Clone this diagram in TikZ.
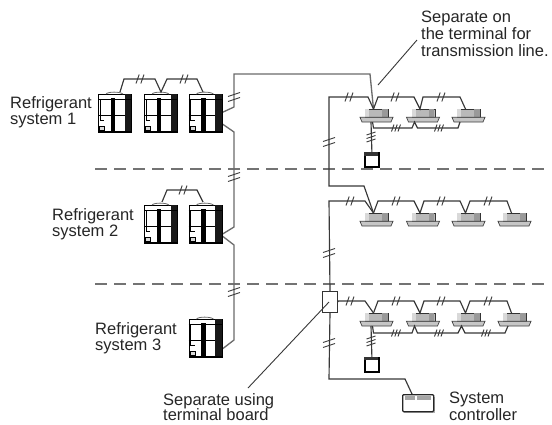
\documentclass[tikz,border=0pt]{standalone}
\usepackage{fontspec}
\setmainfont{Liberation Sans}
\usetikzlibrary{calc}
\definecolor{wire}{gray}{0.22}
\definecolor{wirelight}{gray}{0.42}
\definecolor{dashc}{gray}{0.45}
\definecolor{ink}{gray}{0.15}
\tikzset{
  wireline/.style={draw=wire,line width=1.15pt,line join=miter},
  wiregray/.style={draw=wirelight,line width=1.3pt},
  tickmark/.style={draw=wire,line width=0.9pt},
  zone/.style={draw=dashc,line width=1.3pt,dash pattern=on 12pt off 7pt},
  lead/.style={draw=wire,line width=0.9pt},
  label/.style={font=\fontsize{16.5}{16.8}\selectfont,text=ink,align=left,inner sep=0pt,anchor=north west},
  outbox/.style={draw=black,line width=0.9pt,fill=white,minimum width=33pt,minimum height=38pt,inner sep=0pt,anchor=north west},
  headbox/.style={draw=black!80,line width=0.9pt,fill=gray!55,minimum width=23pt,minimum height=8pt,inner sep=0pt,anchor=north west},
  remote/.style={draw=black,line width=1.8pt,fill=white,minimum width=14pt,minimum height=14pt,inner sep=0pt,anchor=north west},
  board/.style={draw=black!80,line width=1pt,fill=white,minimum width=15pt,minimum height=21pt,inner sep=0pt,anchor=north west},
  ctrl/.style={draw=black!85,line width=1.3pt,fill=white,rounded corners=1pt,minimum width=31pt,minimum height=17pt,inner sep=0pt,anchor=north west}
}
% outdoor unit: name, x, y (top left)
\newcommand{\outdoorunit}[3]{%
  \node[outbox] (#1) at (#2,#3) {};
  \begin{scope}[shift={(#2,#3)}]
    \fill[black] (12.5,4) rectangle (17,37);
    \fill[black!90] (26.5,0) rectangle (33,37);
    \draw[black,line width=0.6pt] (0,5) -- (33,5);
    \draw[black,line width=0.6pt] (0,21) -- (26.5,21);
    \fill[black] (0,36.5) rectangle (33,38);
    \draw[black,line width=0.7pt] (2,6) -- (2,22);
    \draw[black,line width=0.7pt] (2,22) -- (2,26) -- (6,26);
    \draw[black,line width=0.8pt,fill=gray!30] (1.5,32) rectangle (6.5,36);
    \draw[wirelight,line width=0.8pt] (8,0) .. controls (10,-2.5) and (22,-2.5) .. (25,0);
  \end{scope}}
% indoor cassette: name, x, y (top left of head)
\newcommand{\indoorunit}[3]{%
  \node[headbox] (#1) at (#2,#3) {};
  \coordinate (#1t) at ($(#1.north west)+(8.5,0)$);
  \coordinate (#1b) at ($(#1.north west)+(6,13)$);
  \begin{scope}[shift={(#2,#3)}]
    \fill[gray!80] (17,0.4) rectangle (22.6,7.6);
    \fill[gray!30] (0.4,0.4) rectangle (4,7.6);
    \draw[black!75,line width=0.7pt,fill=gray!45] (-5,8.3) -- (28,8.3) -- (26,13) -- (-3,13) -- cycle;
  \end{scope}}
% double tick, triple tick
\newcommand{\dbl}[2]{\begin{scope}[shift={(#1,#2)}]
  \draw[tickmark] (-4,4.5) -- (-0.8,-4.5); \draw[tickmark] (0.8,4.5) -- (4,-4.5);
\end{scope}}
\newcommand{\dblv}[2]{\begin{scope}[shift={(#1,#2)}]
  \draw[tickmark] (-6,-0.5) -- (6,-4.5); \draw[tickmark] (-6,4.5) -- (6,0.5);
\end{scope}}
\newcommand{\trp}[2]{\begin{scope}[shift={(#1,#2)}]
  \draw[tickmark] (-4.5,3.5) -- (-2,-3.5); \draw[tickmark] (-1.2,3.5) -- (1.2,-3.5); \draw[tickmark] (2,3.5) -- (4.5,-3.5);
\end{scope}}
\newcommand{\trpv}[2]{\begin{scope}[shift={(#1,#2)}]
  \draw[tickmark] (-4.5,-2) -- (4.5,-5); \draw[tickmark] (-4.5,1.5) -- (4.5,-1.5); \draw[tickmark] (-4.5,5) -- (4.5,2);
\end{scope}}
\begin{document}
\begin{tikzpicture}[x=1pt,y=-1pt]
\useasboundingbox (0,0) rectangle (552,424);
\fill[white] (0,0) rectangle (552,424);

% zone lines
\coordinate (za) at (95,169); \coordinate (zb) at (550,169);
\coordinate (zc) at (95,284); \coordinate (zd) at (550,284);
\draw[zone] (za) -- (zb);
\draw[zone] (zc) -- (zd);

% trunk on the left
\coordinate (t1) at (234,74);
\coordinate (t2) at (370,74);
\coordinate (t3) at (234,107);
\coordinate (t4) at (234,132);
\coordinate (t5) at (234,227);
\coordinate (t6) at (234,245);
\coordinate (t7) at (234,340);
\coordinate (ta) at (221,113);
\coordinate (tb) at (221,123);
\coordinate (tc) at (221,235);
\coordinate (td) at (221,350);
\coordinate (e1) at (373.5,109);
\draw[wiregray] (ta) -- (t3) -- (t1) -- (t2) -- (e1);
\draw[wiregray] (tb) -- (t4) -- (t5) -- (tc) -- (t6) -- (t7) -- (td);

% outdoor units
\outdoorunit{oa}{98}{94}
\outdoorunit{ob}{144}{94}
\outdoorunit{oc}{188.5}{94}
\outdoorunit{od}{144}{205}
\outdoorunit{oe}{188.5}{205}
\outdoorunit{of}{188.5}{319}

% indoor units
\indoorunit{ia}{365}{109}
\indoorunit{ib}{411.5}{109}
\indoorunit{ic}{457}{109}
\indoorunit{id}{365}{213}
\indoorunit{ie}{411.5}{213}
\indoorunit{if}{457}{213}
\indoorunit{ig}{503}{213}
\indoorunit{ih}{365}{313}
\indoorunit{ii}{411.5}{313}
\indoorunit{ij}{457}{313}
\indoorunit{ik}{503}{313}

% remote controllers, terminal board, system controller
\node[remote] (ra) at (364,152) {};
\fill[black!80] (364,152) rectangle (378,156);
\node[remote] (rb) at (364,357) {};
\fill[black!80] (364,357) rectangle (378,360);
\node[board] (tbd) at (322,291) {};
\fill[gray!60] (403.5,396.5) rectangle (434.5,412.5);
\node[ctrl] (sc) at (402,394) {};
\fill[gray!70] (404.5,396) rectangle (415,399.5);
\fill[gray!70] (416.5,396) rectangle (431,399.5);

% system links between outdoor units
\draw[wireline] (120,92) -- (124,79) -- (155,79) -- (161,92) -- (167,79) -- (197,79) -- (203,92);
\draw[wireline] (162,202) -- (167,190) -- (197,190) -- (203,202);

% row 1 bus
\coordinate (m1) at (329,97);
\coordinate (m2) at (329,186);
\coordinate (m3) at (364,186);
\draw[wireline] (iat) -- (368,97) -- (m1) -- (m2) -- (m3) -- (idt);
\draw[wireline] (iat) -- (378,97) -- (414,97) -- (ibt) -- (423,97) -- (460,97) -- (ict);

% row 2 bus
\coordinate (n1) at (329,201);
\draw[wireline] (idt) -- (365,201) -- (n1) -- (tbd.north);
\draw[wireline] (idt) -- (378,201) -- (414,201) -- (iet) -- (424,201) -- (460,201) -- (ift) -- (470,201) -- (507,201) -- (igt);

% row 3 bus
\coordinate (q1) at (365,301);
\draw[wireline] (tbd.east) -- (tbd.east |- q1) -- (q1) -- (iht);
\draw[wireline] (iht) -- (378,301) -- (414,301) -- (iit) -- (424,301) -- (460,301) -- (ijt) -- (470,301) -- (507,301) -- (ikt);

% down to system controller
\coordinate (p1) at (329,379);
\coordinate (p2) at (405,379);
\draw[wireline] (tbd.south) -- (p1) -- (p2) -- (412,394);

% lower links row 1
\draw[wireline] (372.5,122) -- (373.5,128) -- (412,128) -- (414.5,122) -- (417.5,128) -- (458,128) -- (460,122);
\draw[wireline] (iab) -- (ra.north);
% lower links row 3
\draw[wireline] (372.5,326) -- (373.5,333) -- (412,333) -- (414.5,326) -- (417.5,333) -- (458,333) -- (461.5,326) -- (465,333) -- (505,333) -- (508,326);
\draw[wireline] (ihb) -- (rb.north);

% ticks
\dblv{234}{97} \dblv{234}{177} \dblv{234}{292}
\dblv{329}{142} \dblv{329}{253} \dblv{329}{343}
\dbl{140}{79} \dbl{184}{79} \dbl{183}{190}
\dbl{349}{97} \dbl{395}{97} \dbl{441}{97}
\dbl{350}{201} \dbl{396}{201} \dbl{441}{201} \dbl{488}{201}
\dbl{350}{301} \dbl{396}{301} \dbl{441}{301} \dbl{488}{301}
\trp{396}{128} \trp{439}{128}
\trp{396}{333} \trp{439}{333} \trp{486}{333}
\trpv{371}{137} \trpv{371}{341}

% leaders
\coordinate (la) at (378,85);
\coordinate (lb) at (417,40);
\coordinate (lc) at (329,302);
\coordinate (ld) at (248,388);
\draw[lead] (la) -- (lb);
\draw[lead] (lc) -- (ld);

% labels
\node[label] (l1) at (10,96) {Refrigerant\\system 1};
\node[label] (l2) at (52,208) {Refrigerant\\system 2};
\node[label] (l3) at (95,322) {Refrigerant\\system 3};
\node[label] (l4) at (421,11) {Separate on\\the terminal for\\transmission line.};
\node[label] (l5) at (163,393) {Separate using\\[-1pt]terminal board};
\node[label] (l6) at (449,392) {System\\controller};
\end{tikzpicture}
\end{document}
